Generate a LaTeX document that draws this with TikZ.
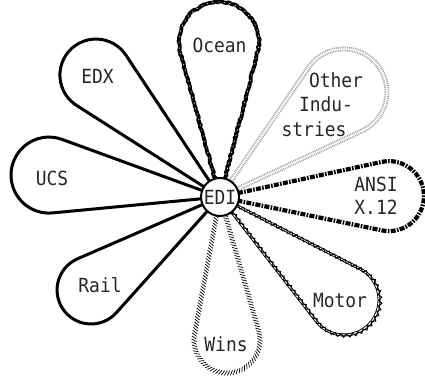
\documentclass[tikz,border=0pt]{standalone}
\usepackage{fontspec}
\newfontfamily\labelfont{DejaVu Sans Mono}
\usetikzlibrary{decorations.pathmorphing,decorations.markings}

% slightly condensed typewriter lettering
\newcommand\narrow[1]{\scalebox{0.92}[1]{#1}}

% a teardrop petal leaving the hub: style, direction, distance of the round end, its radius
\newcommand\drawpetal[4]{%
  \begin{scope}[shift={(hub)}, rotate=#2]
    \draw[#1] (0,0) -- ({asin(#4/#3)}:{#3*cos(asin(#4/#3))})
      arc[start angle={90+asin(#4/#3)}, end angle={-90-asin(#4/#3)}, radius=#4pt] -- cycle;
  \end{scope}}

\tikzset{
  plainpetal/.style={line width=3pt, line join=round},
  oceanpetal/.style={line width=3.8pt, line join=round, decorate,
    decoration={random steps, segment length=2pt, amplitude=0.9pt}},
  oceanfleck/.style={white, line width=0.6pt, dash pattern=on 1.2pt off 4.5pt},
  otherpetal/.style={black!35, line width=5pt, dash pattern=on 0.9pt off 0.9pt},
  othercore/.style={white, line width=1.2pt},
  ansipetal/.style={line width=4.2pt, dash pattern=on 5pt off 1.3pt on 1.6pt off 1.3pt},
  cordbase/.style={line width=0.9pt, double=white, double distance=1.1pt, line join=round},
  cordtwist/.style={line width=1pt, decorate,
    decoration={snake, segment length=6pt, amplitude=1.6pt}},
  hatchpetal/.style={decorate, decoration={markings,
    mark=between positions 0 and 1 step 2.8pt with
      {\draw[black, line width=0.7pt] (-1.4pt,-2.4pt) -- (1.4pt,2.4pt);}}},
  petaltext/.style={font=\labelfont\fontsize{19.5}{23}\selectfont,
    inner sep=0pt, anchor=base, text=black!85},
  hubcircle/.style={circle, draw, line width=2pt, fill=white,
    minimum size=38pt, inner sep=0pt}
}

\begin{document}
\begin{tikzpicture}[x=1pt, y=1pt]
  \useasboundingbox (0,0) rectangle (425,379);
  \coordinate (hub) at (220,182);

  % solid petals
  \drawpetal{plainpetal}{135.5}{174}{36}
  \drawpetal{plainpetal}{172.7}{172.4}{38}
  \drawpetal{plainpetal}{215.8}{159}{34}

  % Ocean: rough heavy outline
  \drawpetal{oceanpetal}{90.4}{155}{40}
  \drawpetal{oceanfleck}{90.4}{155}{40}

  % Other Industries: grey stipple
  \drawpetal{otherpetal}{40.3}{162.5}{43}
  \drawpetal{othercore}{40.3}{162.5}{43}

  % ANSI X.12: heavy dash-dot band
  \drawpetal{ansipetal}{0.3}{169}{35}

  % Motor: twisted cord
  \drawpetal{cordbase}{-39.7}{161.2}{35}
  \drawpetal{cordtwist}{-39.7}{161.2}{35}

  % Wins: hatched outline
  \drawpetal{hatchpetal}{-87.2}{143.2}{33}

  \node[hubcircle] (edi) at (hub) {};
  \node[petaltext] (editext) at (220,174.5) {\narrow{EDI}};

  \node[petaltext] (ocean) at (219.5,326) {\narrow{Ocean}};
  \node[petaltext] (other1) at (336,291) {\narrow{Other}};
  \node[petaltext] (other2) at (326,267) {\narrow{Indu-}};
  \node[petaltext] (other3) at (314,242) {\narrow{stries}};
  \node[petaltext] (ansi1) at (376,187) {\narrow{ANSI}};
  \node[petaltext] (ansi2) at (376,164) {\narrow{X.12}};
  \node[petaltext] (motor) at (340,71) {\narrow{Motor}};
  \node[petaltext] (wins) at (226,27) {\narrow{Wins}};
  \node[petaltext] (rail) at (100,86) {\narrow{Rail}};
  \node[petaltext] (ucs) at (52,193) {\narrow{UCS}};
  \node[petaltext] (edx) at (97.5,295) {\narrow{EDX}};
\end{tikzpicture}
\end{document}
